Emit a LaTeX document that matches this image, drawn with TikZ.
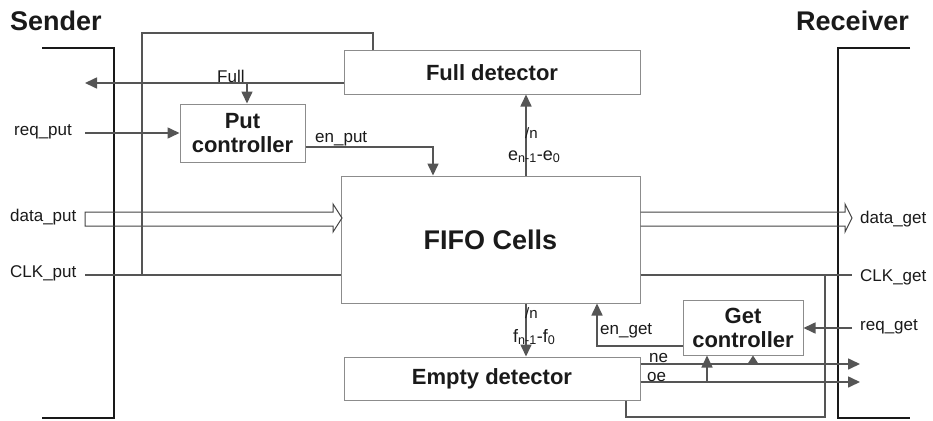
\documentclass[tikz,border=0pt]{standalone}
\usepackage{fontspec}
\setmainfont{Liberation Sans}
\usetikzlibrary{arrows.meta,calc}
\definecolor{wirec}{HTML}{555555}
\definecolor{boxc}{HTML}{8C8C8C}
\definecolor{txtc}{HTML}{1A1A1A}
\tikzset{
 blk/.style={draw=boxc, line width=1pt, fill=white, text=txtc, font=\fontsize{22}{24}\selectfont\bfseries, align=center, inner sep=0pt},
 wire/.style={draw=wirec, line width=1.6pt},
 arr/.style={wire, -{Triangle[length=12pt,width=11pt]}},
 lbl/.style={text=txtc, font=\fontsize{17}{19}\selectfont, inner sep=0pt},
 smalllbl/.style={text=txtc, font=\fontsize{15}{17}\selectfont, inner sep=0pt},
 bracketline/.style={draw=black!90, line width=2pt},
 hollow/.style={draw=wirec!80!black, line width=1pt},
 titlelbl/.style={text=txtc, font=\fontsize{27}{29}\selectfont\bfseries, inner sep=0pt}
}
\begin{document}
\begin{tikzpicture}[x=1pt,y=-1pt]
\useasboundingbox[fill=white] (0,0) rectangle (933,420);
% brackets
\draw[bracketline] (42,48) -- (114,48) -- (114,418) -- (42,418);
\draw[bracketline] (910,48) -- (838,48) -- (838,418) -- (910,418);
% titles
\node[titlelbl, anchor=west] (sender) at (10,21) {Sender};
\node[titlelbl, anchor=east] (receiver) at (909,21) {Receiver};
% blocks
\node[blk, minimum width=296pt, minimum height=43pt] (fulldet) at (492,72.5) {Full detector};
\node[blk, minimum width=125pt, minimum height=58pt] (putc) at (242.5,133) {Put\\controller};
\node[blk, minimum width=299pt, minimum height=127pt, font=\fontsize{27}{29}\selectfont\bfseries] (fifo) at (490.5,239.5) {FIFO Cells};
\node[blk, minimum width=120pt, minimum height=55pt] (getc) at (743,327.5) {Get\\controller};
\node[blk, minimum width=296pt, minimum height=43pt] (emptydet) at (492,378.5) {Empty detector};
% guide coordinates
\coordinate (looptop) at (142,33);
\coordinate (xloopR) at (373,0);
\coordinate (clkjoin) at (142,275);
\coordinate (clkputS) at (85,275);
\coordinate (fullE) at (85,83);
\coordinate (fullbr) at (247,83);
\coordinate (reqputS) at (85,133);
\coordinate (enputC) at (433,147);
\coordinate (xe) at (526,0);
\coordinate (engetC) at (597,346);
\coordinate (reqgetS) at (852,328);
\coordinate (clkgetE) at (852,275);
\coordinate (clkbr) at (825,275);
\coordinate (loopbot) at (626,417);
\coordinate (neE) at (860,364);
\coordinate (oeE) at (860,382);
\coordinate (oebr) at (707,382);
\coordinate (nebr) at (753,364);
\coordinate (dgtop) at (0,212);
\coordinate (dgbot) at (0,226);
% hollow data arrows
\draw[hollow] (85,212) -- (333,212) -- (333,204) -- (342,218) -- (333,232) -- (333,226) -- (85,226) -- cycle;
\draw[hollow] (fifo.east |- dgtop) -- (845,212) -- (845,204) -- (852,218) -- (845,232) -- (845,226) -- (fifo.east |- dgbot);
% wires
\draw[wire] (fulldet.north -| xloopR) |- (looptop) -- (clkjoin);
\draw[wire] (clkputS) -- (fifo.west |- clkputS);
\draw[arr] (fulldet.west |- fullE) -- (fullE);
\draw[arr] (fullbr) -- (putc.north -| fullbr);
\draw[arr] (reqputS) -- (putc.west |- reqputS);
\draw[arr] (putc.east |- enputC) -| (fifo.north -| enputC);
\draw[arr] (fifo.north -| xe) -- (fulldet.south -| xe);
\draw[arr] (fifo.south -| xe) -- (emptydet.north -| xe);
\draw[arr] (getc.west |- engetC) -| (fifo.south -| engetC);
\draw[arr] (reqgetS) -- (getc.east |- reqgetS);
\draw[wire] (fifo.east |- clkgetE) -- (clkgetE);
\draw[wire] (clkbr) |- (loopbot) -- (emptydet.south -| loopbot);
\draw[arr] (emptydet.east |- neE) -- (neE);
\draw[arr] (emptydet.east |- oeE) -- (oeE);
\draw[arr] (oebr) -- (getc.south -| oebr);
\draw[wire, -{Triangle[length=8pt,width=10pt]}] (nebr) -- (getc.south -| nebr);
% signal labels
\node[lbl, anchor=base west] (lreqput) at (14,135) {req\_put};
\node[lbl, anchor=base west] (ldataput) at (10,221) {data\_put};
\node[lbl, anchor=base west] (lclkput) at (10,277) {CLK\_put};
\node[lbl, anchor=base west] (ldataget) at (860,223) {data\_get};
\node[lbl, anchor=base west] (lclkget) at (860,281) {CLK\_get};
\node[lbl, anchor=base west] (lreqget) at (860,330) {req\_get};
\node[lbl, anchor=base west] (lfull) at (217,82) {Full};
\node[lbl, anchor=base west] (lenput) at (315,142) {en\_put};
\node[lbl, anchor=base west] (lenget) at (600,334) {en\_get};
\node[lbl, anchor=base west] (lne) at (649,362) {ne};
\node[lbl, anchor=base west] (loe) at (647,381) {oe};
\node[smalllbl, anchor=base west] (lne1) at (525,138) {/n};
\node[lbl, anchor=base west, font=\fontsize{18}{20}\selectfont] (le) at (508,160) {e\textsubscript{n-1}-e\textsubscript{0}};
\node[smalllbl, anchor=base west] (lnf) at (525,318) {/n};
\node[lbl, anchor=base west, font=\fontsize{18}{20}\selectfont] (lf) at (513,342) {f\textsubscript{n-1}-f\textsubscript{0}};
\end{tikzpicture}
\end{document}
